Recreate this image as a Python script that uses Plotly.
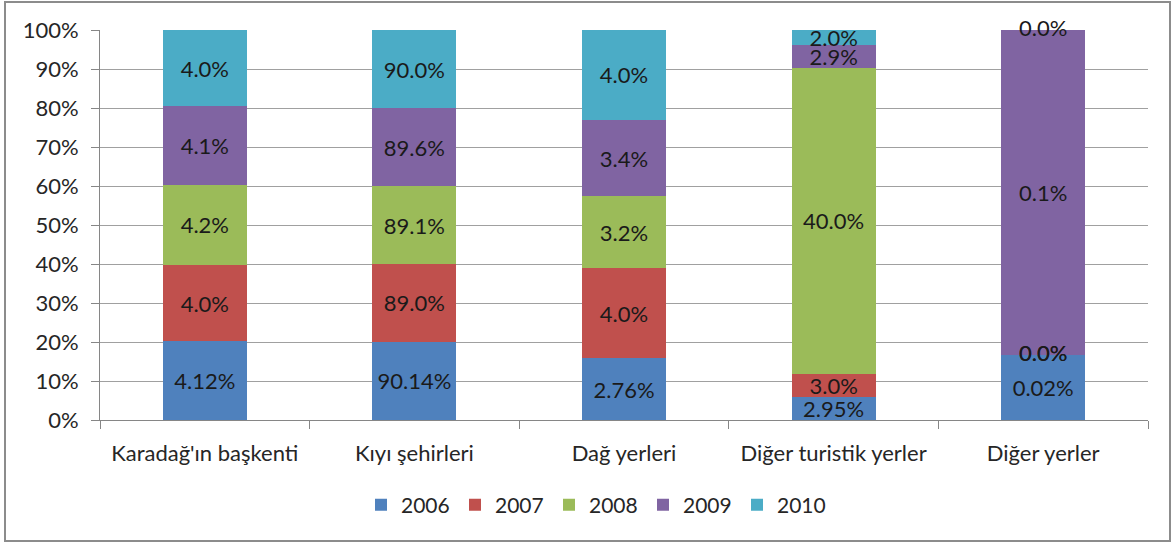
import plotly.graph_objects as go

categories = ["Karadağ'ın başkenti", "Kıyı şehirleri", "Dağ yerleri", "Diğer turistik yerler", "Diğer yerler"]
years = ["2006", "2007", "2008", "2009", "2010"]
v2006 = [4.12, 90.14, 2.76, 2.95, 0.02]
v2007 = [4.0, 89.0, 4.0, 3.0, 0.0]
v2008 = [4.2, 89.1, 3.2, 40.0, 0.0]
v2009 = [4.1, 89.6, 3.4, 2.9, 0.1]
v2010 = [4.0, 90.0, 4.0, 2.0, 0.0]
series = [v2006, v2007, v2008, v2009, v2010]
decimals = [2, 1, 1, 1, 1]
y_ticks = [0, 10, 20, 30, 40, 50, 60, 70, 80, 90, 100]
y_tick_labels = ["0%", "10%", "20%", "30%", "40%", "50%", "60%", "70%", "80%", "90%", "100%"]
colors = ["#4F81BD", "#C0504D", "#9BBB59", "#8064A2", "#4BACC6"]

FONT = "Lato"
FS = 22
TXT = "#1a1a1a"
W, H = 1172, 542
L, R, T, B = 100, 24, 30, 122

fig = go.Figure()
for name, vals, d, c in zip(years, series, decimals, colors):
    fig.add_trace(go.Bar(
        name=name, x=categories, y=vals,
        text=[f"{v:.{d}f}%" for v in vals],
        textposition="inside", insidetextanchor="middle", textangle=0,
        constraintext="none",
        textfont=dict(family=FONT, size=FS, color=TXT),
        marker=dict(color=c, line=dict(width=0)),
        hoverinfo="skip",
    ))

# labels for zero-height segments (the bar renderer drops them)
zx, zy, zt = [], [], []
for i, cat in enumerate(categories):
    total = sum(s[i] for s in series)
    cum = 0.0
    for s, d in zip(series, decimals):
        if s[i] == 0:
            zx.append(cat)
            zy.append(cum / total * 100)
            zt.append(f"{s[i]:.{d}f}%")
        cum += s[i]
fig.add_trace(go.Scatter(
    x=zx, y=zy, text=zt, mode="text", textposition="middle center",
    textfont=dict(family=FONT, size=FS, color=TXT),
    showlegend=False, hoverinfo="skip", cliponaxis=False,
))

pw, ph = W - L - R, H - T - B
def px(x):
    return (x - L) / pw
def py(y):
    return (H - B - y) / ph

fig.update_layout(
    width=W, height=H,
    barmode="stack", barnorm="percent", bargap=0.6,
    margin=dict(l=L, r=R, t=T, b=B, autoexpand=False),
    paper_bgcolor="white", plot_bgcolor="white",
    font=dict(family=FONT, size=FS, color="#262626"),
    showlegend=True,
    legend=dict(orientation="h", x=px(596), xanchor="center", y=py(505), yanchor="middle",
                traceorder="normal",
                font=dict(family=FONT, size=21, color="#262626"),
                entrywidth=49, entrywidthmode="pixels",
                itemwidth=30, tracegroupgap=0),
    shapes=[dict(type="rect", xref="paper", yref="paper",
                 x0=px(5), x1=px(1170), y0=py(541), y1=py(2),
                 line=dict(color="#8c8c8c", width=2), layer="below")],
)
fig.update_xaxes(
    type="category", showline=True, linecolor="#868686", linewidth=1,
    ticks="outside", tickson="boundaries", ticklen=8, tickcolor="#868686",
    showgrid=False, ticklabelstandoff=14,
    tickfont=dict(family=FONT, size=FS, color="#262626"),
)
fig.update_yaxes(
    range=[0, 100.01], tickmode="array", tickvals=y_ticks, ticktext=y_tick_labels,
    showline=True, linecolor="#868686", linewidth=1,
    ticks="outside", ticklen=8, tickcolor="#868686",
    showgrid=True, gridcolor="#a0a0a0", gridwidth=1, zeroline=False,
    ticklabelstandoff=8,
    tickfont=dict(family=FONT, size=FS, color="#262626"),
)

fig.write_html("out.html", config={"displayModeBar": False},
               post_script="document.body.style.margin='0';")
